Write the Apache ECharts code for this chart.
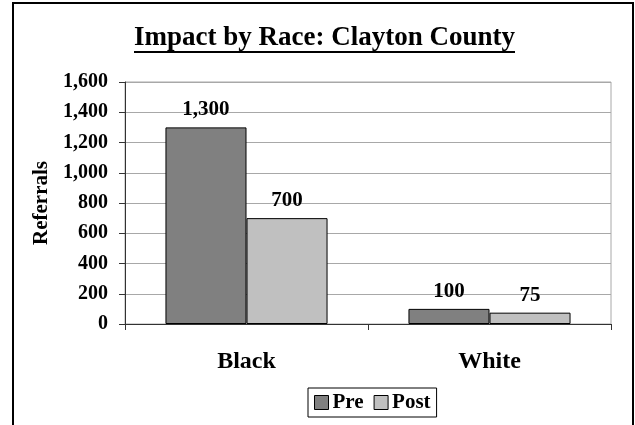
<!DOCTYPE html>
<html>
<head>
<meta charset="utf-8">
<style>
  html, body { margin: 0; padding: 0; background: #fff; }
  #chart { width: 635px; height: 425px; }
</style>
<script src="https://cdn.jsdelivr.net/npm/echarts@6/dist/echarts.min.js"></script>
</head>
<body>
<div id="chart"></div>
<script>
// Referral counts by race, before and after
const categories = ['Black', 'White'];
const preValues = [1300, 100];
const postValues = [700, 75];
const seriesNames = ['Pre', 'Post'];
const yTicks = [0, 200, 400, 600, 800, 1000, 1200, 1400, 1600];

const titleText = 'Impact by Race: Clayton County';
const serif = '"Liberation Serif", "Times New Roman", Times, serif';

// measure title width so the underline spans exactly the text
const ctx = document.createElement('canvas').getContext('2d');
ctx.font = 'bold 27px ' + serif;
const titleWidth = ctx.measureText(titleText).width;
const titleCenterX = 324.5;

const fmt = v => v.toLocaleString('en-US');

const chart = echarts.init(document.getElementById('chart'), null, { renderer: 'canvas' });

chart.setOption({
  animation: false,
  backgroundColor: '#fff',
  textStyle: { fontFamily: serif },
  graphic: [
    {
      type: 'rect',
      shape: { x: 13, y: 3, width: 620, height: 500 },
      style: { fill: null, stroke: '#000', lineWidth: 2 },
      silent: true
    },
    {
      type: 'text',
      x: titleCenterX,
      y: 38,
      style: {
        text: titleText,
        font: 'bold 27px ' + serif,
        fill: '#000',
        align: 'center',
        verticalAlign: 'middle'
      }
    },
    {
      type: 'rect',
      shape: { x: titleCenterX - titleWidth / 2, y: 51, width: titleWidth, height: 2 },
      style: { fill: '#000' }
    }
  ],
  legend: {
    data: seriesNames,
    left: 308,
    top: 388,
    orient: 'horizontal',
    icon: 'rect',
    itemWidth: 14,
    itemHeight: 14,
    itemGap: 10,
    padding: [4, 6, 4, 6],
    borderColor: '#000',
    borderWidth: 1,
    textStyle: { fontFamily: serif, fontWeight: 'bold', fontSize: 21, color: '#000', padding: [0, 0, 0, -1] },
    itemStyle: { borderColor: '#000', borderWidth: 1 }
  },
  grid: {
    left: 125,
    right: 24,
    top: 82,
    bottom: 101,
    show: true,
    borderColor: '#a8a8a8',
    borderWidth: 1,
    backgroundColor: 'transparent'
  },
  xAxis: {
    type: 'category',
    data: categories,
    axisLine: { lineStyle: { color: '#333', width: 1 } },
    axisTick: { show: true, length: 6, lineStyle: { color: '#333' } },
    axisLabel: {
      margin: 26,
      fontFamily: serif,
      fontWeight: 'bold',
      fontSize: 24,
      color: '#000'
    }
  },
  yAxis: {
    type: 'value',
    min: yTicks[0],
    max: yTicks[yTicks.length - 1],
    interval: yTicks[1] - yTicks[0],
    name: 'Referrals',
    nameLocation: 'middle',
    nameGap: 73,
    nameTextStyle: { fontFamily: serif, fontWeight: 'bold', fontSize: 21, color: '#000' },
    axisLine: { show: true, lineStyle: { color: '#333', width: 1 } },
    axisTick: { show: true, length: 6, lineStyle: { color: '#333' } },
    axisLabel: {
      margin: 17,
      fontFamily: serif,
      fontWeight: 'bold',
      fontSize: 20,
      color: '#000',
      formatter: fmt
    },
    splitLine: { show: true, lineStyle: { color: '#a8a8a8', width: 1 } }
  },
  series: [
    {
      name: seriesNames[0],
      type: 'bar',
      data: preValues,
      barGap: '0%',
      barCategoryGap: '33.3%',
      itemStyle: { color: '#808080', borderColor: '#000', borderWidth: 1 },
      label: {
        show: true,
        position: 'top',
        distance: 7,
        fontFamily: serif,
        fontWeight: 'bold',
        fontSize: 21,
        color: '#000',
        formatter: p => fmt(p.value)
      }
    },
    {
      name: seriesNames[1],
      type: 'bar',
      data: postValues,
      barGap: '0%',
      barCategoryGap: '33.3%',
      itemStyle: { color: '#c0c0c0', borderColor: '#000', borderWidth: 1 },
      label: {
        show: true,
        position: 'top',
        distance: 7,
        fontFamily: serif,
        fontWeight: 'bold',
        fontSize: 21,
        color: '#000',
        formatter: p => fmt(p.value)
      }
    }
  ]
});
</script>
</body>
</html>
